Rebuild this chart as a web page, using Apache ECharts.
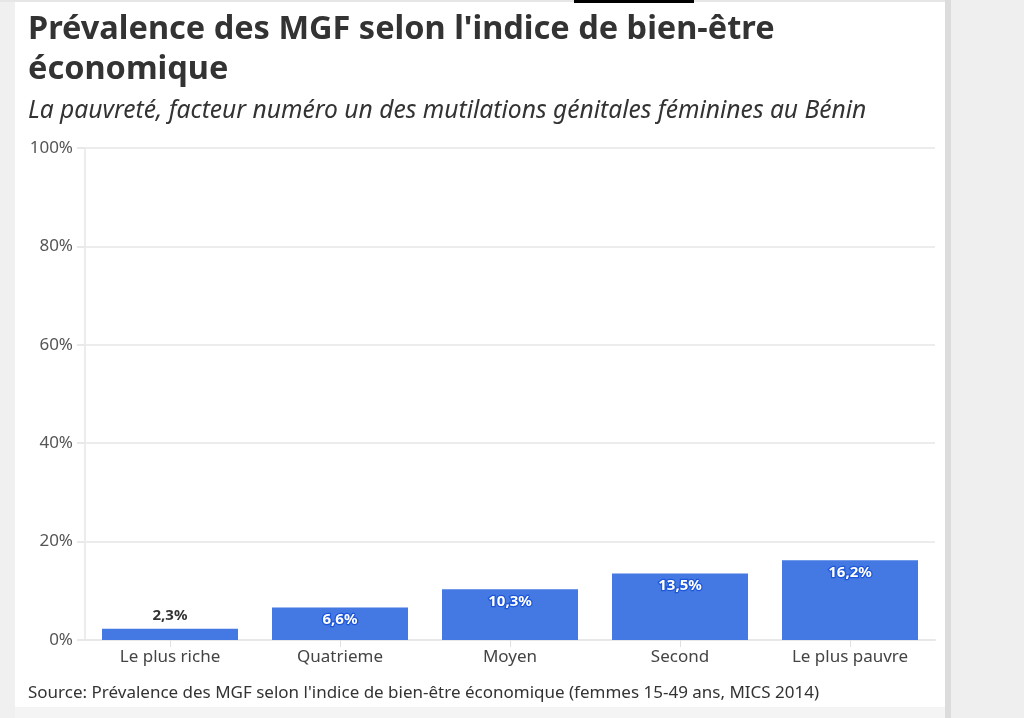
<!DOCTYPE html>
<html>
<head>
<meta charset="utf-8">
<script src="https://cdn.jsdelivr.net/npm/echarts@6/dist/echarts.min.js"></script>
<style>
  html, body { margin: 0; padding: 0; background: #fff; }
  #chart { width: 1024px; height: 718px; }
</style>
</head>
<body>
<div id="chart"></div>
<script>
// Data
const categories = ['Le plus riche', 'Quatrieme', 'Moyen', 'Second', 'Le plus pauvre'];
const prevalence = [2.3, 6.6, 10.3, 13.5, 16.2];
const yTicks = [0, 20, 40, 60, 80, 100];

const FONT = '"Noto Sans", "Open Sans", sans-serif';
const BAR_BLUE = '#4479e3';

// Small bars get their label above, the others inside the top of the bar
const barData = prevalence.map((v) => {
    if (v < 4) {
        return {
            value: v,
            label: {
                position: 'top',
                distance: 5,
                color: '#333',
                textBorderWidth: 0
            }
        };
    }
    return { value: v };
});

const chart = echarts.init(document.getElementById('chart'));

chart.setOption({
    backgroundColor: '#ffffff',
    animation: false,
    textStyle: { fontFamily: FONT },
    grid: {
        left: 85,
        right: 89,
        top: 148,
        bottom: 78,
        containLabel: false
    },
    graphic: [
        // screenshot frame around the card
        { type: 'rect', shape: { x: 0, y: 0, width: 15, height: 718 }, style: { fill: '#f0f0f0' }, silent: true },
        { type: 'rect', shape: { x: 945, y: 0, width: 6, height: 718 }, style: { fill: '#dcdcdc' }, silent: true },
        { type: 'rect', shape: { x: 951, y: 0, width: 73, height: 718 }, style: { fill: '#efefef' }, silent: true },
        { type: 'rect', shape: { x: 0, y: 0, width: 945, height: 2 }, style: { fill: '#e6e6e6' }, silent: true },
        { type: 'rect', shape: { x: 15, y: 707, width: 930, height: 11 }, style: { fill: '#f4f4f4' }, silent: true },
        { type: 'rect', shape: { x: 574, y: 0, width: 120, height: 3 }, style: { fill: '#000' }, silent: true },
        // titles
        {
            type: 'text', left: 28, top: 10,
            style: {
                text: "Prévalence des MGF selon l'indice de bien-être\néconomique",
                font: 'bold 32.5px ' + FONT,
                fill: '#333',
                lineHeight: 40
            }
        },
        {
            type: 'text', left: 28, top: 98,
            style: {
                text: 'La pauvreté, facteur numéro un des mutilations génitales féminines au Bénin',
                font: 'italic 24.6px ' + FONT,
                fill: '#333'
            }
        },
        {
            type: 'text', left: 28, top: 685,
            style: {
                text: "Source: Prévalence des MGF selon l'indice de bien-être économique (femmes 15-49 ans, MICS 2014)",
                font: '17px ' + FONT,
                fill: '#333'
            }
        }
    ],
    xAxis: {
        type: 'category',
        data: categories,
        axisLine: { show: true, lineStyle: { color: '#e8e8e8', width: 2 } },
        axisTick: { show: true, alignWithLabel: true, length: 7, lineStyle: { color: '#e0e0e0' } },
        axisLabel: { color: '#444', fontSize: 17, margin: 9, fontFamily: FONT }
    },
    yAxis: {
        type: 'value',
        min: yTicks[0],
        max: yTicks[yTicks.length - 1],
        interval: yTicks[1] - yTicks[0],
        axisLine: { show: true, lineStyle: { color: '#ececec', width: 2 } },
        axisTick: { show: true, length: 8, lineStyle: { color: '#e8e8e8', width: 2 } },
        splitLine: { show: true, lineStyle: { color: '#ececec', width: 2 } },
        axisLabel: {
            color: '#555',
            fontSize: 17,
            margin: 12,
            fontFamily: FONT,
            formatter: (v) => v + '%'
        }
    },
    series: [{
        type: 'bar',
        data: barData,
        barWidth: '80%',
        itemStyle: { color: BAR_BLUE },
        label: {
            show: true,
            position: 'insideTop',
            distance: 5,
            color: '#fff',
            fontWeight: 'bold',
            fontSize: 15,
            fontFamily: FONT,
            textBorderColor: '#1d56d8',
            textBorderWidth: 2.5,
            formatter: (p) => String(p.value).replace('.', ',') + '%'
        }
    }]
});
</script>
</body>
</html>
